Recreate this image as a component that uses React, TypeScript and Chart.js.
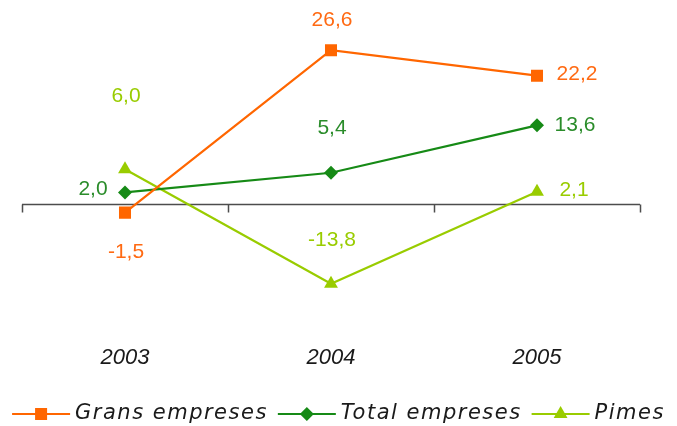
import React, { useEffect, useRef } from 'react';
import { Chart, registerables } from 'chart.js';

Chart.register(...registerables);

const categories = ['2003', '2004', '2005'];
const seriesNames = ['Grans empreses', 'Total empreses', 'Pimes'];
const gransValues = [-1.5, 26.6, 22.2];
const totalValues = [2.0, 5.4, 13.6];
const pimesValues = [6.0, -13.8, 2.1];
const yMin = -22;
const yMax = 32;

const seriesStyles = [
  { color: '#FF6600', labelColor: '#FF6A13', pointStyle: 'rect', radius: 8.5, offsets: [[1, 40], [1, -30], [40, -1]] },
  { color: '#168A16', labelColor: '#2A8C2A', pointStyle: 'rectRot', radius: 7, offsets: [[-32, -3], [1, -45], [38, 0]] },
  { color: '#99CC00', labelColor: '#99CC00', pointStyle: 'triangle', radius: 8, offsets: [[1, -73], [1, -44], [37, -2]] },
];

const valueFont = '21px "Liberation Sans", Arial, sans-serif';
const legendFont = 'italic 21px "DejaVu Sans", sans-serif';

function fmt(v: number) {
  return v.toFixed(1).replace('.', ',');
}

function drawMarker(ctx: CanvasRenderingContext2D, style: string, x: number, y: number, r: number) {
  ctx.beginPath();
  if (style === 'rect') {
    const s = Math.SQRT1_2 * r;
    ctx.rect(x - s, y - s, 2 * s, 2 * s);
  } else if (style === 'rectRot') {
    ctx.moveTo(x, y - r);
    ctx.lineTo(x + r, y);
    ctx.lineTo(x, y + r);
    ctx.lineTo(x - r, y);
    ctx.closePath();
  } else {
    const a = Math.PI * 2 / 3;
    ctx.moveTo(x, y - r);
    ctx.lineTo(x + Math.sin(a) * r, y - Math.cos(a) * r);
    ctx.lineTo(x + Math.sin(2 * a) * r, y - Math.cos(2 * a) * r);
    ctx.closePath();
  }
  ctx.fill();
}

const zeroAxisPlugin = {
  id: 'zeroAxis',
  beforeDatasetsDraw(chart: any) {
    const { ctx, chartArea, scales } = chart;
    const y = Math.round(scales.y.getPixelForValue(0)) + 0.5;
    const n = categories.length;
    const w = (chartArea.right - chartArea.left) / n;
    ctx.save();
    ctx.strokeStyle = '#4d4d4d';
    ctx.lineWidth = 1.5;
    ctx.beginPath();
    ctx.moveTo(chartArea.left, y);
    ctx.lineTo(chartArea.right, y);
    for (let i = 0; i <= n; i++) {
      const x = Math.round(chartArea.left + i * w) + 0.5;
      ctx.moveTo(x, y);
      ctx.lineTo(x, y + 8);
    }
    ctx.stroke();
    ctx.restore();
  },
};

const valueLabelPlugin = {
  id: 'valueLabels',
  afterDatasetsDraw(chart: any) {
    const { ctx } = chart;
    ctx.save();
    ctx.font = valueFont;
    ctx.textAlign = 'center';
    ctx.textBaseline = 'middle';
    chart.data.datasets.forEach((ds: any, di: number) => {
      const meta = chart.getDatasetMeta(di);
      const st = seriesStyles[di];
      ctx.fillStyle = st.labelColor;
      meta.data.forEach((pt: any, i: number) => {
        const [dx, dy] = st.offsets[i];
        ctx.fillText(fmt(ds.data[i]), pt.x + dx, pt.y + dy);
      });
    });
    ctx.restore();
  },
};

const legendPlugin = {
  id: 'customLegend',
  afterDraw(chart: any) {
    const { ctx, width } = chart;
    const lineLen = 58;
    const gapText = 5;
    const gapItem = 10;
    ctx.save();
    ctx.font = legendFont;
    (ctx as any).letterSpacing = '1.5px';
    const items = chart.data.datasets.map((ds: any, i: number) => ({
      label: ds.label,
      st: seriesStyles[i],
      tw: ctx.measureText(ds.label).width,
    }));
    const total = items.reduce((s: number, it: any) => s + lineLen + gapText + it.tw, 0) + gapItem * (items.length - 1);
    let x = (width - total) / 2;
    const y = 414;
    items.forEach((it: any) => {
      ctx.strokeStyle = it.st.color;
      ctx.lineWidth = 2;
      ctx.beginPath();
      ctx.moveTo(x, y);
      ctx.lineTo(x + lineLen, y);
      ctx.stroke();
      ctx.fillStyle = it.st.color;
      drawMarker(ctx, it.st.pointStyle, x + lineLen / 2, y, it.st.radius);
      x += lineLen + gapText;
      ctx.fillStyle = '#1a1a1a';
      ctx.textAlign = 'left';
      ctx.textBaseline = 'middle';
      ctx.fillText(it.label, x, y);
      x += it.tw + gapItem;
    });
    ctx.restore();
  },
};

export default function App() {
  const ref = useRef<HTMLCanvasElement>(null);
  useEffect(() => {
    if (!ref.current) return;
    const values = [gransValues, totalValues, pimesValues];
    const chart = new Chart(ref.current, {
      type: 'line',
      data: {
        labels: categories,
        datasets: values.map((v, i) => ({
          label: seriesNames[i],
          data: v,
          borderColor: seriesStyles[i].color,
          backgroundColor: seriesStyles[i].color,
          pointBackgroundColor: seriesStyles[i].color,
          pointBorderColor: seriesStyles[i].color,
          pointBorderWidth: 0,
          pointStyle: seriesStyles[i].pointStyle as any,
          pointRadius: seriesStyles[i].radius,
          borderWidth: 2.2,
          tension: 0,
          fill: false,
        })),
      },
      options: {
        responsive: false,
        animation: false,
        devicePixelRatio: 1,
        layout: { padding: { left: 22, right: 37, top: 19, bottom: 40.5 } },
        plugins: {
          legend: { display: false },
          tooltip: { enabled: false },
        },
        scales: {
          x: {
            type: 'category',
            offset: true,
            grid: { display: false, drawTicks: false },
            border: { display: false },
            ticks: {
              color: '#1a1a1a',
              padding: 14,
              font: { family: '"Liberation Sans", Arial, sans-serif', size: 22, style: 'italic' },
            },
          },
          y: {
            display: false,
            min: yMin,
            max: yMax,
          },
        },
      },
      plugins: [zeroAxisPlugin, valueLabelPlugin, legendPlugin],
    });
    return () => chart.destroy();
  }, []);
  return (
    <div style={{ position: 'fixed', left: 0, top: 0, width: 677, height: 426, background: '#fff' }}>
      <canvas ref={ref} width={677} height={426} />
    </div>
  );
}
